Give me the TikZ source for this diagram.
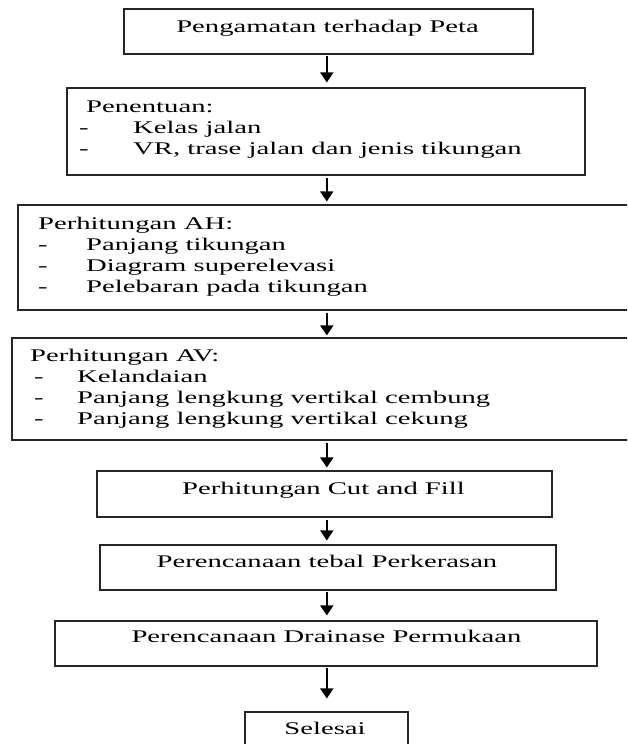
\documentclass[tikz,border=0pt]{standalone}
\usepackage{fontspec}
\setmainfont{Liberation Serif}
\usepackage{graphicx}
\usetikzlibrary{arrows.meta}
\newcommand{\wtext}[1]{\scalebox{1.61}[1]{#1}}
\begin{document}
\begin{tikzpicture}[x=1pt,y=-1pt,
  box/.style={draw=black!85, line width=1.1pt, rectangle, inner sep=0pt},
  txt/.style={inner sep=0pt, font=\fontsize{17.8}{21}\selectfont, text=black},
  arr/.style={draw=black, line width=1.4pt, -{Triangle[width=13pt,length=10pt]}}]
\clip (0,0) rectangle (627,744);
\coordinate (ax) at (326.8,0);
% boxes
\node[box, minimum width=409pt, minimum height=45pt] (b1) at (328.5,31.5) {};
\node[box, minimum width=518pt, minimum height=87pt] (b2) at (326,131.5) {};
\node[box, minimum width=622pt, minimum height=105pt] (b3) at (329,257.5) {};
\node[box, minimum width=633pt, minimum height=102pt] (b4) at (328.5,389) {};
\node[box, minimum width=455pt, minimum height=46pt] (b5) at (324.5,494) {};
\node[box, minimum width=456pt, minimum height=45pt] (b6) at (328,567.5) {};
\node[box, minimum width=542pt, minimum height=45pt] (b7) at (326,643.5) {};
\node[box, minimum width=163pt, minimum height=58pt] (b8) at (326.5,741) {};
% texts
\node[txt, anchor=base] (t1) at (327.5,32) {\wtext{Pengamatan terhadap Peta}};
\node[txt, anchor=base west] (t2) at (86,112) {\wtext{Penentuan:}};
\node[txt, anchor=base west] (t2d1) at (79,133) {\wtext{-}};
\node[txt, anchor=base west] (t2i1) at (133,133) {\wtext{Kelas jalan}};
\node[txt, anchor=base west] (t2d2) at (79,154) {\wtext{-}};
\node[txt, anchor=base west] (t2i2) at (133,154) {\wtext{VR, trase jalan dan jenis tikungan}};
\node[txt, anchor=base west] (t3) at (38,229) {\wtext{Perhitungan AH:}};
\node[txt, anchor=base west] (t3d1) at (38,250) {\wtext{-}};
\node[txt, anchor=base west] (t3i1) at (86,250) {\wtext{Panjang tikungan}};
\node[txt, anchor=base west] (t3d2) at (38,271) {\wtext{-}};
\node[txt, anchor=base west] (t3i2) at (86,271) {\wtext{Diagram superelevasi}};
\node[txt, anchor=base west] (t3d3) at (38,292) {\wtext{-}};
\node[txt, anchor=base west] (t3i3) at (86,292) {\wtext{Pelebaran pada tikungan}};
\node[txt, anchor=base west] (t4) at (30,361) {\wtext{Perhitungan AV:}};
\node[txt, anchor=base west] (t4d1) at (34,382) {\wtext{-}};
\node[txt, anchor=base west] (t4i1) at (77,382) {\wtext{Kelandaian}};
\node[txt, anchor=base west] (t4d2) at (34,403) {\wtext{-}};
\node[txt, anchor=base west] (t4i2) at (77,403) {\wtext{Panjang lengkung vertikal cembung}};
\node[txt, anchor=base west] (t4d3) at (34,424) {\wtext{-}};
\node[txt, anchor=base west] (t4i3) at (77,424) {\wtext{Panjang lengkung vertikal cekung}};
\node[txt, anchor=base] (t5) at (323.5,494) {\wtext{Perhitungan Cut and Fill}};
\node[txt, anchor=base] (t6) at (327,567) {\wtext{Perencanaan tebal Perkerasan}};
\node[txt, anchor=base] (t7) at (326.5,642.5) {\wtext{Perencanaan Drainase Permukaan}};
\node[txt, anchor=base] (t8) at (325,734.5) {\wtext{Selesai}};
% arrows
\draw[arr, shorten <=1pt, shorten >=5pt] (ax |- b1.south) -- (ax |- b2.north);
\draw[arr, shorten <=2pt, shorten >=3pt] (ax |- b2.south) -- (ax |- b3.north);
\draw[arr, shorten <=2pt, shorten >=2pt] (ax |- b3.south) -- (ax |- b4.north);
\draw[arr, shorten <=2pt, shorten >=3pt] (ax |- b4.south) -- (ax |- b5.north);
\draw[arr, shorten <=2pt, shorten >=4pt] (ax |- b5.south) -- (ax |- b6.north);
\draw[arr, shorten <=1pt, shorten >=5pt] (ax |- b6.south) -- (ax |- b7.north);
\draw[arr, shorten <=1pt, shorten >=13pt] (ax |- b7.south) -- (ax |- b8.north);
\end{tikzpicture}
\end{document}
